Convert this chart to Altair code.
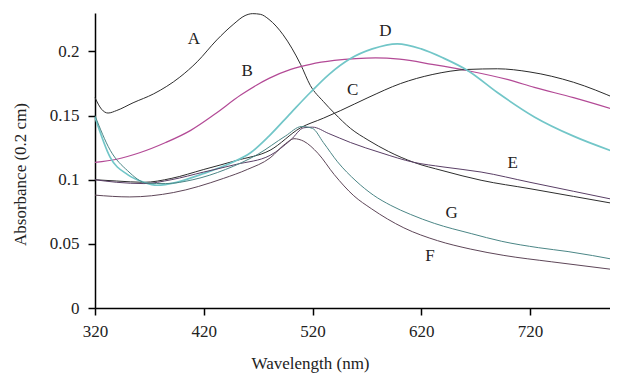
import altair as alt
import pandas as pd

# ---- data ----
A_wl = [320, 326, 332, 340, 355, 374, 398, 414, 432, 447, 458, 465, 472, 480, 493, 509, 518, 530, 540, 555, 571, 590, 613, 640, 675, 720, 760, 800]
A_ab = [0.164, 0.155, 0.152, 0.154, 0.160, 0.167, 0.180, 0.192, 0.209, 0.221, 0.228, 0.2295, 0.229, 0.225, 0.213, 0.190, 0.1735, 0.161, 0.152, 0.140, 0.131, 0.122, 0.1136, 0.107, 0.0996, 0.093, 0.087, 0.081]

B_wl = [320, 340, 361, 385, 408, 430, 454, 480, 500, 518, 540, 560, 578, 600, 630, 663, 700, 724, 760, 800]
B_ab = [0.1135, 0.116, 0.121, 0.129, 0.1385, 0.151, 0.166, 0.179, 0.186, 0.190, 0.193, 0.1945, 0.195, 0.194, 0.190, 0.185, 0.178, 0.172, 0.164, 0.154]

C_wl = [320, 340, 365, 390, 420, 450, 481, 509, 530, 546, 571, 601, 630, 663, 690, 720, 760, 800]
C_ab = [0.100, 0.099, 0.098, 0.101, 0.108, 0.115, 0.123, 0.1405, 0.148, 0.154, 0.164, 0.175, 0.182, 0.186, 0.1865, 0.184, 0.176, 0.163]

D_wl = [320, 334, 350, 365, 377, 395, 417, 445, 463, 480, 500, 518, 535, 555, 575, 598, 620, 640, 663, 690, 724, 760, 800]
D_ab = [0.149, 0.1175, 0.104, 0.098, 0.0957, 0.098, 0.104, 0.113, 0.121, 0.134, 0.152, 0.168, 0.182, 0.1945, 0.202, 0.206, 0.202, 0.195, 0.185, 0.168, 0.149, 0.134, 0.121]

E_wl = [320, 340, 365, 390, 420, 450, 481, 500, 512, 520, 535, 555, 583, 613, 640, 675, 720, 760, 800]
E_ab = [0.100, 0.098, 0.097, 0.100, 0.106, 0.112, 0.119, 0.131, 0.1405, 0.141, 0.136, 0.129, 0.121, 0.1136, 0.110, 0.106, 0.098, 0.091, 0.084]

F_wl = [320, 352, 392, 438, 460, 481, 495, 503, 512, 525, 540, 558, 574, 604, 635, 665, 696, 740, 800]
F_ab = [0.088, 0.0866, 0.090, 0.101, 0.108, 0.117, 0.128, 0.132, 0.130, 0.1206, 0.104, 0.0875, 0.0775, 0.0625, 0.0525, 0.046, 0.041, 0.036, 0.0296]

G_wl = [320, 334, 350, 368, 385, 410, 440, 470, 495, 510, 520, 530, 543, 560, 576, 592, 610, 632, 666, 694, 728, 755, 800]
G_ab = [0.150, 0.123, 0.107, 0.0973, 0.097, 0.100, 0.108, 0.120, 0.134, 0.1415, 0.140, 0.129, 0.114, 0.099, 0.088, 0.080, 0.073, 0.066, 0.058, 0.0520, 0.047, 0.044, 0.0374]

series_names = ["A", "B", "C", "D", "E", "F", "G"]
series_colors = ["#2e2e2e", "#b34a96", "#2b2b2b", "#72c6c8", "#5a3f66", "#5e4658", "#4b8686"]
series_widths = [1.0, 1.2, 1.0, 1.7, 1.0, 1.0, 1.0]

label_text = ["A", "B", "C", "D", "E", "F", "G"]
label_wl = [411, 460, 557, 587, 704, 628, 648]
label_ab = [0.210, 0.185, 0.170, 0.2156, 0.1128, 0.0405, 0.0739]

x_ticks = [320, 420, 520, 620, 720]
y_ticks = [0, 0.05, 0.1, 0.15, 0.2]

# ---- build table ----
curves = {"A": (A_wl, A_ab), "B": (B_wl, B_ab), "C": (C_wl, C_ab), "D": (D_wl, D_ab),
          "E": (E_wl, E_ab), "F": (F_wl, F_ab), "G": (G_wl, G_ab)}
rows = []
for name, w in zip(series_names, series_widths):
    wl, ab = curves[name]
    for a, b in zip(wl, ab):
        rows.append({"series": name, "wl": a, "ab": b, "sw": w})
df = pd.DataFrame(rows)
labels = pd.DataFrame({"t": label_text, "wl": label_wl, "ab": label_ab})

FONT = "Liberation Serif"

x = alt.X("wl:Q", scale=alt.Scale(domain=[320, 800], nice=False, zero=False),
          axis=alt.Axis(values=x_ticks, title="Wavelength (nm)", titleX=215, titleY=60,
                        titleAlign="center", titleBaseline="alphabetic",
                        labelPadding=8, labelFlush=False))
y = alt.Y("ab:Q", scale=alt.Scale(domain=[0, 0.23], nice=False),
          axis=alt.Axis(values=y_ticks, format="~g", title="Absorbance (0.2 cm)",
                        titleX=-75, titleY=161, titleAlign="center", titleBaseline="middle",
                        labelPadding=9, labelFlush=False))

lines = alt.Chart(df).mark_line(interpolate="monotone").encode(
    x=x, y=y,
    color=alt.Color("series:N", scale=alt.Scale(domain=series_names, range=series_colors), legend=None),
    strokeWidth=alt.StrokeWidth("sw:Q", scale=None),
    detail="series:N",
)

text = alt.Chart(labels).mark_text(font=FONT, fontSize=17, color="#222222",
                                   align="center", baseline="middle").encode(
    x="wl:Q", y="ab:Q", text="t:N")

chart = alt.layer(lines, text).properties(
    width=522, height=295,
    autosize=alt.AutoSizeParams(type="none"),
    padding={"left": 87, "top": 5, "right": -7, "bottom": 65},
).configure_view(stroke=None).configure_axis(
    grid=False, domainColor="#000000", domainWidth=1.5, tickColor="#000000",
    tickWidth=1.5, tickSize=7, labelFont=FONT, labelFontSize=17, labelColor="#222222",
    titleFont=FONT, titleFontSize=17, titleColor="#222222", titleFontWeight="normal",
)

chart.save("out.html", embed_options={"renderer": "svg", "actions": False})
